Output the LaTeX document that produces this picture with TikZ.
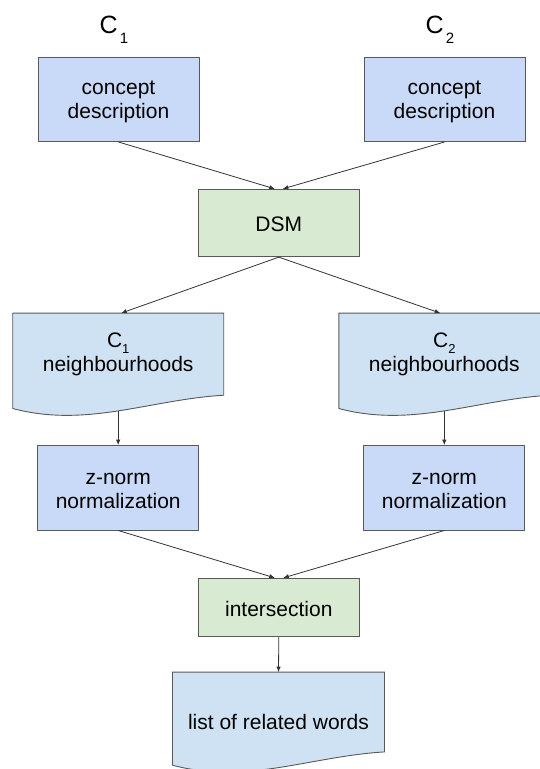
\documentclass[tikz,border=0pt]{standalone}
\usepackage{fontspec}
\setmainfont{Liberation Sans}
\usetikzlibrary{arrows.meta,calc}
\definecolor{bluebox}{HTML}{C9DAF8}
\definecolor{greenbox}{HTML}{D9EAD3}
\definecolor{docblue}{HTML}{CFE2F3}
\definecolor{edgecol}{HTML}{595959}
\definecolor{conncol}{HTML}{333333}
\newcommand\gstrut{\rule[-1pt]{0pt}{19.5pt}}
\newcommand\docpath[1]{%
  \path[fill=docblue, draw=edgecol, line width=0.9pt]
    (#1.north west) -- (#1.north east) -- (#1.south east)
    .. controls ($(#1.south west)!0.65!(#1.south east)+(0,4.4)$)
    and ($(#1.south west)!0.35!(#1.south east)+(0,33)$)
    .. ($(#1.south west)+(0,13.3)$) -- cycle;}
\begin{document}
\begin{tikzpicture}[x=1pt,y=-1pt,
  txt/.style={align=center, inner sep=0pt, font=\fontsize{21}{24}\selectfont},
  box/.style={txt, draw=edgecol, line width=0.9pt, rectangle},
  bluebx/.style={box, fill=bluebox, minimum width=161pt, minimum height=84.5pt},
  greenbx/.style={box, fill=greenbox, minimum width=161pt},
  docarea/.style={rectangle, inner sep=0pt, minimum width=210.6pt, minimum height=81.7pt},
  arr/.style={draw=conncol, line width=0.8pt, -{Latex[length=5.5pt,width=4.5pt]}},
  toplab/.style={anchor=base west, inner sep=0pt, font=\fontsize{25}{25}\selectfont},
]
\useasboundingbox (0,0) rectangle (539,769);

% top labels
\node[toplab] (lab1) at (99.5,33) {C\hspace{2pt}\raisebox{-10pt}{\fontsize{15}{15}\selectfont 1}};
\node[toplab] (lab2) at (425.5,33) {C\hspace{2pt}\raisebox{-10pt}{\fontsize{15}{15}\selectfont 2}};

% concept descriptions
\node[bluebx] (cd1) at (118.5,99.3) {\gstrut concept\\\gstrut description};
\node[bluebx] (cd2) at (444.5,99.3) {\gstrut concept\\\gstrut description};

% DSM
\node[greenbx, minimum height=67.4pt] (dsm) at (278.8,223) {\gstrut DSM};

% neighbourhood documents
\node[docarea] (nb1) at (118.2,354.15) {};
\node[docarea] (nb2) at (444.3,354.15) {};
\docpath{nb1}
\docpath{nb2}
\node[txt] (nb1t) at ($(nb1.center)+(0,-1.4)$) {\gstrut C\smash{\raisebox{-6pt}{\fontsize{13}{13}\selectfont 1}}\\\gstrut neighbourhoods};
\node[txt] (nb2t) at ($(nb2.center)+(0,-1.4)$) {\gstrut C\smash{\raisebox{-6pt}{\fontsize{13}{13}\selectfont 2}}\\\gstrut neighbourhoods};
\coordinate (nb1b) at ($(nb1.south)+(0,15.7)$);
\coordinate (nb2b) at ($(nb2.south)+(0,15.7)$);

% z-norm
\node[bluebx] (zn1) at (118.2,487.8) {\gstrut z-norm\\\gstrut normalization};
\node[bluebx] (zn2) at (444.3,487.8) {\gstrut z-norm\\\gstrut normalization};

% intersection
\node[greenbx, minimum height=58.4pt] (inter) at (278.8,607.5) {\gstrut intersection};

% list of related words
\node[docarea, minimum width=211.6pt, minimum height=79.4pt] (list) at (278.5,712) {};
\docpath{list}
\node[txt] (listt) at ($(list.center)+(0,8.25)$) {\gstrut list of related words};

% connectors
\draw[arr] (cd1.south) -- ($(dsm.north)+(-4,0)$);
\draw[arr] (cd2.south) -- ($(dsm.north)+(4,0)$);
\draw[arr] (dsm.south) -- ($(nb1.north)+(3,0)$);
\draw[arr] (dsm.south) -- ($(nb2.north)+(-4,0)$);
\draw[arr] (nb1b) -- (zn1.north);
\draw[arr] (nb2b) -- (zn2.north);
\draw[arr] (zn1.south) -- ($(inter.north)+(-4,0)$);
\draw[arr] (zn2.south) -- ($(inter.north)+(4.5,0)$);
\draw[arr] (inter.south) -- (list.north);
\end{tikzpicture}
\end{document}
